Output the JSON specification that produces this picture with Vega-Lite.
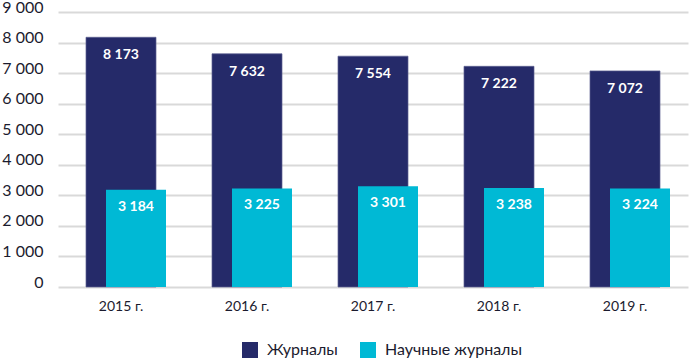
{
  "$schema": "https://vega.github.io/schema/vega-lite/v6.json",
  "width": 630,
  "height": 275,
  "autosize": {"type": "none"},
  "padding": {"left": 58, "top": 12, "right": 1, "bottom": 72},
  "background": "white",
  "data": {
    "values": [
      {"year": "2015 г.", "series": "Журналы", "value": 8173},
      {"year": "2016 г.", "series": "Журналы", "value": 7632},
      {"year": "2017 г.", "series": "Журналы", "value": 7554},
      {"year": "2018 г.", "series": "Журналы", "value": 7222},
      {"year": "2019 г.", "series": "Журналы", "value": 7072},
      {"year": "2015 г.", "series": "Научные журналы", "value": 3184},
      {"year": "2016 г.", "series": "Научные журналы", "value": 3225},
      {"year": "2017 г.", "series": "Научные журналы", "value": 3301},
      {"year": "2018 г.", "series": "Научные журналы", "value": 3238},
      {"year": "2019 г.", "series": "Научные журналы", "value": 3224}
    ]
  },
  "encoding": {
    "x": {
      "field": "year", "type": "nominal", "title": null,
      "scale": {"paddingInner": 0, "paddingOuter": 0},
      "axis": {"labelAngle": 0, "ticks": false, "domain": false, "grid": false, "labelPadding": 12, "labelFontSize": 14, "labelColor": "#1b1b2e", "labelFont": "Lato"}
    },
    "y": {
      "field": "value", "type": "quantitative", "title": null,
      "scale": {"domain": [0, 9000]},
      "axis": {"values": [0, 1000, 2000, 3000, 4000, 5000, 6000, 7000, 8000, 9000], "format": ",d", "ticks": false, "domain": false, "grid": true, "gridColor": "#d9d9d9", "gridWidth": 2, "labelPadding": 15, "labelOffset": -5, "labelFontSize": 16, "labelColor": "#1b1b2e", "labelFont": "Lato"}
    }
  },
  "layer": [
    {
      "transform": [{"filter": "datum.series === 'Журналы'"}],
      "mark": {"type": "bar", "width": 70, "stroke": "#5c6090", "strokeWidth": 0.7},
      "encoding": {
        "color": {"field": "series", "type": "nominal", "title": null,
          "scale": {"domain": ["Журналы", "Научные журналы"], "range": ["#252a69", "#00b9d5"]},
          "legend": {"orient": "none", "legendX": 184, "legendY": 330, "direction": "horizontal", "symbolType": "square", "symbolSize": 256, "symbolStrokeWidth": 0, "labelFontSize": 16, "labelFont": "Lato", "labelColor": "#1b1b2e", "columnPadding": 22, "labelOffset": 9}
        }
      }
    },
    {
      "transform": [{"filter": "datum.series === 'Научные журналы'"}],
      "mark": {"type": "bar", "width": 60, "xOffset": 15},
      "encoding": {
        "color": {"field": "series", "type": "nominal"}
      }
    },
    {
      "transform": [{"filter": "datum.series === 'Журналы'"}],
      "mark": {"type": "text", "baseline": "middle", "dy": 18, "color": "white", "fontWeight": "bold", "fontSize": 14, "font": "Lato"},
      "encoding": {"text": {"field": "value", "type": "quantitative", "format": ",d"}}
    },
    {
      "transform": [{"filter": "datum.series === 'Научные журналы'"}],
      "mark": {"type": "text", "baseline": "middle", "dy": 17, "dx": 15, "color": "white", "fontWeight": "bold", "fontSize": 14, "font": "Lato"},
      "encoding": {"text": {"field": "value", "type": "quantitative", "format": ",d"}}
    }
  ],
  "config": {
    "view": {"stroke": null},
    "locale": {"number": {"decimal": ",", "thousands": " ", "grouping": [3], "currency": ["", " ₽"]}}
  }
}
